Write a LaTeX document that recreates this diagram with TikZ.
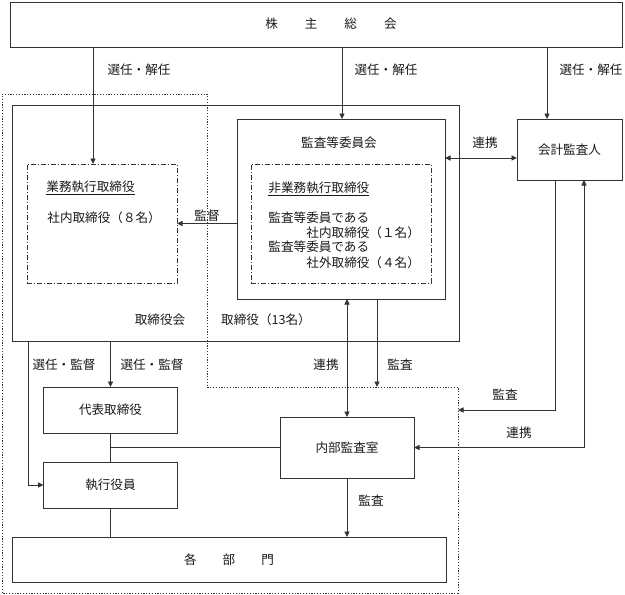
\documentclass[tikz,border=0pt]{standalone}
\usepackage{fontspec}
\setmainfont{Noto Sans CJK JP}
\usetikzlibrary{arrows.meta,positioning}

\begin{document}
\begin{tikzpicture}[x=1pt,y=-1pt,line width=.9pt,
  font=\fontsize{12.6}{15}\selectfont,
  box/.style={draw=black!80, rectangle, outer sep=0pt, inner sep=0pt, text=black!90},
  grp/.style={box, dash pattern=on 5pt off 2pt on 1pt off 2pt},
  region/.style={draw=black!80, dash pattern=on 1.2pt off 1.6pt},
  lbl/.style={inner sep=0pt, text=black!90},
  line/.style={draw=black!80},
  arr/.style={line, -{Triangle[length=5.5pt,width=5pt]}},
  arrboth/.style={line, {Triangle[length=5.5pt,width=5pt]}-{Triangle[length=5.5pt,width=5pt]}}]

  \useasboundingbox (0,0) rectangle (625,595);

  % shareholders
  \node[box, minimum width=612, minimum height=45] (soukai) at (316,24.5) {};
  \node[lbl] (soukaitxt) at (331,24) {株\hspace{27pt}主\hspace{27pt}総\hspace{27pt}会};

  % dotted area
  \draw[region] (2,94) -- (207,94) -- (207,387) -- (458,387) -- (458,593) -- (2,593) -- cycle;

  % board
  \node[box, minimum width=447, minimum height=236] (board) at (235.5,223) {};
  \node[grp, minimum width=150, minimum height=119] (gyoumu) at (102,223.5) {};
  \node[lbl, anchor=west] (gtitle) at (46,188) {\underline{業務執行取締役}};
  \node[lbl, anchor=west] (gmem) at (47,218) {社内取締役（８名）};

  \node[box, minimum width=208, minimum height=180] (iinkai) at (341,209) {};
  \node[lbl] (ititle) at (339,143) {監査等委員会};
  \node[grp, minimum width=180, minimum height=119] (higyoumu) at (341,223.5) {};
  \node[lbl, anchor=west] (htitle) at (268,189) {\underline{非業務執行取締役}};
  \node[lbl, anchor=west] (hmem1) at (268,218) {監査等委員である};
  \node[lbl, anchor=west] (hmem2) at (306,233) {社内取締役（１名）};
  \node[lbl, anchor=west] (hmem3) at (268,247) {監査等委員である};
  \node[lbl, anchor=west] (hmem4) at (306,263) {社外取締役（４名）};

  \node[lbl] (boardtxt) at (160,320) {取締役会};
  \node[lbl] (boardnum) at (266,320) {取締役（13名）};

  \node[box, minimum width=105, minimum height=61] (kaikei) at (569.5,149.5) {会計監査人};

  % executive side
  \node[box, minimum width=134, minimum height=46] (daihyo) at (110.5,410) {代表取締役};
  \node[box, minimum width=134, minimum height=46, below=29pt of daihyo] (shikkou) {執行役員};
  \node[box, minimum width=134, minimum height=61] (naibu) at (347,447.5) {内部監査室};
  \node[box, minimum width=434, minimum height=45] (kakubu) at (229,559.5) {各\hspace{26pt}部\hspace{26pt}門};

  % helper positions
  \coordinate (xa) at (93,0);
  \coordinate (xb) at (342,0);
  \coordinate (xc) at (547,0);
  \coordinate (xd) at (555,0);
  \coordinate (xe) at (584,0);
  \coordinate (xg) at (28,0);
  \coordinate (xh) at (377,0);
  \coordinate (yr) at (0,158);
  \coordinate (dtop) at (377,387);
  \coordinate (dright) at (458,410);

  % connectors
  \draw[arr] (xa |- soukai.south) -- (xa |- gyoumu.north);
  \draw[arr] (xb |- soukai.south) -- (xb |- iinkai.north);
  \draw[arr] (xc |- soukai.south) -- (xc |- kaikei.north);
  \draw[arr] (iinkai.west |- gyoumu.east) -- (gyoumu.east);
  \draw[arrboth] (iinkai.east |- yr) -- (kaikei.west |- yr);
  \draw[arrboth] (naibu.north |- iinkai.south) -- (naibu.north);
  \draw[arr] (xh |- iinkai.south) -- (dtop);
  \draw[arr] (xd |- kaikei.south) |- (dright);
  \draw[arrboth] (xe |- kaikei.south) |- (naibu.east);
  \draw[arr] (daihyo.north |- board.south) -- (daihyo.north);
  \draw[arr] (xg |- board.south) |- (shikkou.west);
  \draw[line] (daihyo.south) -- (shikkou.north);
  \draw[line] (daihyo.south |- naibu.west) -- (naibu.west);
  \draw[line] (shikkou.south) -- (shikkou.south |- kakubu.north);
  \draw[arr] (naibu.south) -- (naibu.south |- kakubu.north);

  % connector labels
  \node[lbl] (l1) at (139,70) {選任・解任};
  \node[lbl] (l2) at (386,70) {選任・解任};
  \node[lbl] (l3) at (591,70) {選任・解任};
  \node[lbl] (l4) at (207,216) {監督};
  \node[lbl] (l5) at (485,143) {連携};
  \node[lbl] (l6) at (64,365) {選任・監督};
  \node[lbl] (l7) at (152,365) {選任・監督};
  \node[lbl] (l8) at (326,365) {連携};
  \node[lbl] (l9) at (400,365) {監査};
  \node[lbl] (l10) at (505,395) {監査};
  \node[lbl] (l11) at (519,433) {連携};
  \node[lbl] (l12) at (371,501) {監査};
\end{tikzpicture}
\end{document}
